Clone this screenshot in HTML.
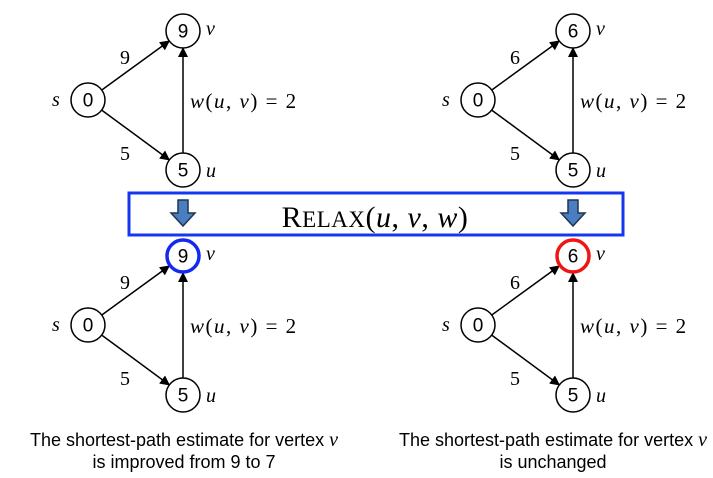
<!DOCTYPE html>
<html><head><meta charset="utf-8"><style>
html,body{margin:0;padding:0;background:#fff;}
svg{display:block;}
.n{font-family:"Liberation Sans",sans-serif;font-size:19px;text-anchor:middle;dominant-baseline:central;}
.i{font-family:"Liberation Serif",serif;font-style:italic;font-size:20px;dominant-baseline:central;}
.w{font-family:"Liberation Serif",serif;font-size:20px;dominant-baseline:central;}
.e{font-family:"Liberation Serif",serif;font-size:21px;dominant-baseline:central;letter-spacing:1.5px;}
.c{font-family:"Liberation Sans",sans-serif;font-size:18px;text-anchor:middle;}
</style></head><body>
<svg width="713" height="478" viewBox="0 0 713 478" xmlns="http://www.w3.org/2000/svg">
<defs>
<marker id="a" markerWidth="10" markerHeight="10" refX="9" refY="5" orient="auto" markerUnits="userSpaceOnUse">
<path d="M0,0 L10,5 L0,10 z" fill="#000"/></marker>
</defs>

<g transform="translate(0,0)">
<line x1="101.8" y1="90" x2="169.2" y2="41" stroke="#000" stroke-width="1.5" marker-end="url(#a)"/>
<line x1="101.7" y1="110.1" x2="169.3" y2="159.9" stroke="#000" stroke-width="1.5" marker-end="url(#a)"/>
<line x1="183" y1="153" x2="183" y2="48" stroke="#000" stroke-width="1.5" marker-end="url(#a)"/>
<circle cx="88" cy="100" r="17" fill="#fff" stroke="#000" stroke-width="1.5"/>
<circle cx="183" cy="31" r="17" fill="#fff" stroke="#000" stroke-width="1.5"/>
<circle cx="183" cy="170" r="17" fill="#fff" stroke="#000" stroke-width="1.5"/>
<text class="n" x="88" y="101">0</text><text class="n" x="183" y="32">9</text><text class="n" x="183" y="171">5</text>
<text class="i" x="52" y="100">s</text><text class="i" x="206" y="29">v</text><text class="i" x="206" y="171">u</text>
<text class="w" x="125" y="58" text-anchor="middle">9</text><text class="w" x="125" y="154" text-anchor="middle">5</text>
<text class="e" x="190" y="101"><tspan font-style="italic">w</tspan>(<tspan font-style="italic">u</tspan>, <tspan font-style="italic">v</tspan>) = 2</text>
</g>

<g transform="translate(390,0)">
<line x1="101.8" y1="90" x2="169.2" y2="41" stroke="#000" stroke-width="1.5" marker-end="url(#a)"/>
<line x1="101.7" y1="110.1" x2="169.3" y2="159.9" stroke="#000" stroke-width="1.5" marker-end="url(#a)"/>
<line x1="183" y1="153" x2="183" y2="48" stroke="#000" stroke-width="1.5" marker-end="url(#a)"/>
<circle cx="88" cy="100" r="17" fill="#fff" stroke="#000" stroke-width="1.5"/>
<circle cx="183" cy="31" r="17" fill="#fff" stroke="#000" stroke-width="1.5"/>
<circle cx="183" cy="170" r="17" fill="#fff" stroke="#000" stroke-width="1.5"/>
<text class="n" x="88" y="101">0</text><text class="n" x="183" y="32">6</text><text class="n" x="183" y="171">5</text>
<text class="i" x="52" y="100">s</text><text class="i" x="206" y="29">v</text><text class="i" x="206" y="171">u</text>
<text class="w" x="125" y="58" text-anchor="middle">6</text><text class="w" x="125" y="154" text-anchor="middle">5</text>
<text class="e" x="190" y="101"><tspan font-style="italic">w</tspan>(<tspan font-style="italic">u</tspan>, <tspan font-style="italic">v</tspan>) = 2</text>
</g>

<g transform="translate(0,225)">
<line x1="101.8" y1="90" x2="169.2" y2="41" stroke="#000" stroke-width="1.5" marker-end="url(#a)"/>
<line x1="101.7" y1="110.1" x2="169.3" y2="159.9" stroke="#000" stroke-width="1.5" marker-end="url(#a)"/>
<line x1="183" y1="153" x2="183" y2="48" stroke="#000" stroke-width="1.5" marker-end="url(#a)"/>
<circle cx="88" cy="100" r="17" fill="#fff" stroke="#000" stroke-width="1.5"/>
<circle cx="183" cy="31" r="16" fill="#fff" stroke="#1428f0" stroke-width="3.5"/>
<circle cx="183" cy="170" r="17" fill="#fff" stroke="#000" stroke-width="1.5"/>
<text class="n" x="88" y="101">0</text><text class="n" x="183" y="32">9</text><text class="n" x="183" y="171">5</text>
<text class="i" x="52" y="100">s</text><text class="i" x="206" y="29">v</text><text class="i" x="206" y="171">u</text>
<text class="w" x="125" y="58" text-anchor="middle">9</text><text class="w" x="125" y="154" text-anchor="middle">5</text>
<text class="e" x="190" y="101"><tspan font-style="italic">w</tspan>(<tspan font-style="italic">u</tspan>, <tspan font-style="italic">v</tspan>) = 2</text>
</g>

<g transform="translate(390,225)">
<line x1="101.8" y1="90" x2="169.2" y2="41" stroke="#000" stroke-width="1.5" marker-end="url(#a)"/>
<line x1="101.7" y1="110.1" x2="169.3" y2="159.9" stroke="#000" stroke-width="1.5" marker-end="url(#a)"/>
<line x1="183" y1="153" x2="183" y2="48" stroke="#000" stroke-width="1.5" marker-end="url(#a)"/>
<circle cx="88" cy="100" r="17" fill="#fff" stroke="#000" stroke-width="1.5"/>
<circle cx="183" cy="31" r="16" fill="#fff" stroke="#f01414" stroke-width="3.5"/>
<circle cx="183" cy="170" r="17" fill="#fff" stroke="#000" stroke-width="1.5"/>
<text class="n" x="88" y="101">0</text><text class="n" x="183" y="32">6</text><text class="n" x="183" y="171">5</text>
<text class="i" x="52" y="100">s</text><text class="i" x="206" y="29">v</text><text class="i" x="206" y="171">u</text>
<text class="w" x="125" y="58" text-anchor="middle">6</text><text class="w" x="125" y="154" text-anchor="middle">5</text>
<text class="e" x="190" y="101"><tspan font-style="italic">w</tspan>(<tspan font-style="italic">u</tspan>, <tspan font-style="italic">v</tspan>) = 2</text>
</g>

<rect x="129" y="193" width="494" height="42" fill="#fff" stroke="#1438f0" stroke-width="3"/>
<path d="M178,200 h10 v13 h7 l-12,13 l-12,-13 h7 z" fill="#4a7ec0" stroke="#1f3550" stroke-width="1.5"/>
<path d="M568,200 h10 v13 h7 l-12,13 l-12,-13 h7 z" fill="#4a7ec0" stroke="#1f3550" stroke-width="1.5"/>
<text x="375" y="227" text-anchor="middle" font-family="Liberation Serif,serif" font-size="30" letter-spacing="0.5">R<tspan font-size="23">ELAX</tspan>(<tspan font-style="italic">u</tspan>, <tspan font-style="italic">v</tspan>, <tspan font-style="italic">w</tspan>)</text>

<text class="c" x="184" y="446">The shortest-path estimate for vertex <tspan font-family="Liberation Serif,serif" font-style="italic" font-size="20">v</tspan></text>
<text class="c" x="184" y="468">is improved from 9 to 7</text>
<text class="c" x="553" y="446">The shortest-path estimate for vertex <tspan font-family="Liberation Serif,serif" font-style="italic" font-size="20">v</tspan></text>
<text class="c" x="553" y="468">is unchanged</text>
</svg>
</body></html>
